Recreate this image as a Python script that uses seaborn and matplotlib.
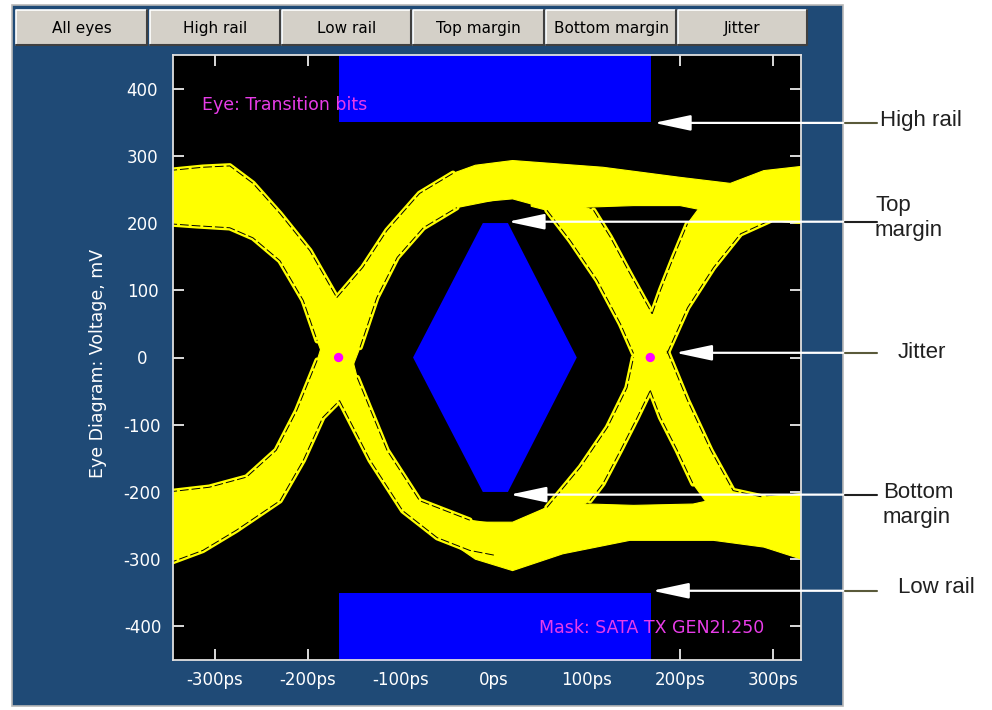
"""
Eye diagram screen (SATA TX mask) recreated with seaborn / matplotlib.
"""

import matplotlib
matplotlib.use("Agg")
import numpy as np
import matplotlib.pyplot as plt
import matplotlib.transforms as mtransforms
from matplotlib.patches import Rectangle
from matplotlib.lines import Line2D
import seaborn as sns

# 1. Data (time in ps, voltage in mV)
x_ticks = [-300, -200, -100, 0, 100, 200, 300]
y_ticks = [-400, -300, -200, -100, 0, 100, 200, 300, 400]
x_tick_labels = [f"{t}ps" for t in x_ticks]

# falling edge through the left crossing (upper edge / lower edge)
fall_l_top_t = [-350, -313, -284, -259, -230, -198, -169, -147, -115, -80, -26, 0]
fall_l_top_v = [278, 283, 285, 259, 214, 159, 89, -30, -138, -213, -242, -247]
fall_l_bot_t = [-350, -320, -284, -259, -230, -205, -190, -166, -133, -98, -61, -26, 0]
fall_l_bot_v = [199, 196, 193, 178, 144, 85, 25, -64, -153, -228, -268, -287, -294]

# rising edge through the left crossing
rise_l_top_t = [-350, -306, -266, -234, -212, -190, -169, -141, -115, -80, -44, 0]
rise_l_top_v = [-200, -193, -178, -138, -79, -4, 89, 134, 189, 244, 274, 288]
rise_l_bot_t = [-350, -313, -277, -230, -205, -184, -166, -144, -126, -104, -76, -40, 0]
rise_l_bot_v = [-306, -287, -257, -213, -153, -89, -64, 15, 89, 149, 193, 223, 234]

# falling edge through the right crossing
fall_r_top_t = [40, 107, 125, 146, 170, 186, 208, 233, 257, 290, 335]
fall_r_top_v = [250, 219, 179, 125, 65, 10, -64, -138, -198, -208, -202]
fall_r_bot_t = [40, 57, 82, 111, 136, 150, 168, 179, 197, 214, 236, 290, 335]
fall_r_bot_v = [225, 219, 174, 115, 50, 6, -49, -89, -138, -188, -230, -250, -250]

# rising edge through the right crossing
rise_r_top_t = [40, 57, 93, 122, 143, 150, 170, 179, 193, 208, 230, 335]
rise_r_top_v = [-235, -223, -163, -104, -45, 0, 65, 100, 149, 199, 240, 250]
rise_r_bot_t = [40, 71, 103, 117, 136, 154, 168, 186, 208, 236, 265, 297, 335]
rise_r_bot_v = [-290, -240, -213, -188, -138, -89, -49, 6, 74, 134, 184, 204, 199]

# settled "1" and "0" levels in the middle / right of the screen
high_top_t = [-44, -20, 20, 117, 200, 254, 290, 335]
high_top_v = [274, 286, 293, 283, 268, 259, 278, 285]
high_bot_t = [-44, -20, 20, 57, 107, 150, 200, 240, 265, 297, 335]
high_bot_v = [222, 231, 236, 222, 224, 226, 226, 215, 205, 204, 199]
low_top_t = [-40, -20, 20, 57, 103, 150, 214, 257, 290, 335]
low_top_v = [-241, -245, -245, -223, -218, -220, -218, -205, -208, -202]
low_bot_t = [-40, -20, 20, 74, 146, 236, 290, 335]
low_bot_v = [-281, -300, -317, -292, -272, -272, -282, -302]

# mask (SATA TX GEN2I.250)
mask_t = [-87, -12, 15, 89, 15, -12]
mask_v = [0, 200, 200, 0, -200, -200]
rail_t = [-167, 169]
high_rail_v = 350
low_rail_v = -350

# crossing points (jitter markers)
cross_t = [-167, 168]
cross_v = [0, 0]

# buttons on top of the panel
button_labels = ["All eyes", "High rail", "Low rail", "Top margin", "Bottom margin", "Jitter"]

# callouts on the right
callout_labels = ["High rail", "Top\nmargin", "Jitter", "Bottom\nmargin", "Low rail"]
callout_t = [172, 15, 195, 17, 170]
callout_v = [349, 202, 7, -204, -347]
callout_text_v = [352, 207, 7, -220, -342]
callout_text_x = [880, 875, 898, 883, 898]
callout_line_col = ["#5a5a3a", "#202020", "#5a5a3a", "#202020", "#5a5a3a"]

# 2. Style
sns.set_theme(style="dark")
plt.rcParams["font.family"] = ["DejaVu Sans"]
plt.rcParams["axes.unicode_minus"] = False

W, H = 992, 710
fig = plt.figure(figsize=(W / 100, H / 100), dpi=100)
fig.patch.set_facecolor("white")


def fx(px):
    return px / W


def fy(py):
    return 1 - py / H


PANEL = "#1f4a76"
YELLOW = "#ffff00"
MASK_BLUE = "#0000ff"
MAGENTA = "#e83ce8"

# blue instrument panel
fig.add_artist(Rectangle((fx(12), fy(706)), fx(843) - fx(12), fy(5) - fy(706),
                         transform=fig.transFigure, facecolor=PANEL,
                         edgecolor="#b8b8b8", lw=1.2, zorder=0))

# buttons
btn_x0 = [16, 150, 282, 413, 546, 678]
btn_x1 = [147, 280, 411, 544, 676, 807]
for lab, a, b in zip(button_labels, btn_x0, btn_x1):
    fig.add_artist(Rectangle((fx(a), fy(45)), fx(b) - fx(a), fy(10) - fy(45),
                             transform=fig.transFigure, facecolor="#d4d0c8",
                             edgecolor="none", zorder=1))
    fig.add_artist(Line2D([fx(a), fx(a), fx(b)], [fy(45), fy(10), fy(10)],
                          transform=fig.transFigure, color="white", lw=1.2, zorder=2))
    fig.add_artist(Line2D([fx(a), fx(b), fx(b)], [fy(45), fy(45), fy(10)],
                          transform=fig.transFigure, color="#404040", lw=1.5, zorder=2))
    fig.text(fx((a + b) / 2), fy(33), lab, ha="center", va="baseline",
             fontsize=11, color="black", zorder=3)

# 3. Plot area
ax = fig.add_axes([fx(173), fy(660), fx(801) - fx(173), fy(55) - fy(660)])
ax.set_facecolor("black")

# each band: (upper edge, lower edge, index ranges of the edges that face black)
bands = [
    (fall_l_top_t, fall_l_top_v, fall_l_bot_t, fall_l_bot_v, [(0, 7), (7, 11)], [(0, 7), (7, 13)]),
    (rise_l_top_t, rise_l_top_v, rise_l_bot_t, rise_l_bot_v, [(0, 6), (6, 11)], [(0, 7), (7, 12)]),
    (fall_r_top_t, fall_r_top_v, fall_r_bot_t, fall_r_bot_v, [(1, 5), (5, 10)], [(1, 6), (6, 10)]),
    (rise_r_top_t, rise_r_top_v, rise_r_bot_t, rise_r_bot_v, [(1, 6), (6, 10)], [(2, 7), (7, 12)]),
    (high_top_t, high_top_v, high_bot_t, high_bot_v, [], []),
    (low_top_t, low_top_v, low_bot_t, low_bot_v, [], []),
]
for tt, tv, bt, bv, top_seg, bot_seg in bands:
    poly_t = np.concatenate([tt, bt[::-1]])
    poly_v = np.concatenate([tv, bv[::-1]])
    ax.fill(poly_t, poly_v, color=YELLOW, lw=0.8, zorder=2)
    # outermost traces: thin yellow trace just outside the band edge,
    # split from the bulk by a broken black gap
    for et, ev, segs in ((tt, tv, top_seg), (bt, bv, bot_seg)):
        for i0, i1 in segs:
            ax.plot(et[i0:i1], ev[i0:i1], color=YELLOW, lw=4.0,
                    solid_capstyle="round", solid_joinstyle="round", zorder=2)
            ax.plot(et[i0:i1], ev[i0:i1], color="black", lw=0.7,
                    ls=(0, (9, 3)), zorder=2.1)

# mask
ax.fill(mask_t, mask_v, color=MASK_BLUE, lw=0, zorder=3)
ax.fill_between(rail_t, high_rail_v, 470, color=MASK_BLUE, lw=0, zorder=3)
ax.fill_between(rail_t, -470, low_rail_v, color=MASK_BLUE, lw=0, zorder=3)

# crossing markers
sns.scatterplot(x=cross_t, y=cross_v, color="#ff00ff", s=45, edgecolor="none",
                ax=ax, zorder=4)

ax.set_xlim(-345, 330)
ax.set_ylim(-450, 450)
ax.set_xticks(x_ticks)
ax.set_xticklabels(x_tick_labels)
ax.set_yticks(y_ticks)
ax.tick_params(axis="both", direction="in", colors="white", length=8, width=1.2,
               top=True, right=True, labelsize=12, bottom=True, left=True)
ax.tick_params(axis="y", pad=22)
ax.tick_params(axis="x", pad=8)
for lab in ax.get_yticklabels():
    lab.set_ha("center")
ax.grid(False)
for sp in ax.spines.values():
    sp.set_color("#e0e0e0")
    sp.set_linewidth(1.3)
    sp.set_zorder(5)
    sp.set_visible(True)
ax.set_xlabel("")
ax.set_ylabel("")

fig.text(fx(98), fy(363), "Eye Diagram: Voltage, mV", rotation=90, ha="center",
         va="center", fontsize=12.5, color="white")

ax.text(-314, 375, "Eye: Transition bits", color=MAGENTA, fontsize=12.5,
        ha="left", va="center", zorder=6)
ax.text(290, -403, "Mask: SATA TX GEN2I.250", color=MAGENTA, fontsize=12.5,
        ha="right", va="center", zorder=6)

# 4. Callouts
blend = mtransforms.blended_transform_factory(fig.transFigure, ax.transData)
for lab, t, v, tv, tx, lc in zip(callout_labels, callout_t, callout_v,
                                 callout_text_v, callout_text_x, callout_line_col):
    ax.annotate("", xy=(t, v), xytext=(fx(843), v),
                textcoords=("figure fraction", "data"),
                arrowprops=dict(arrowstyle="-|>,head_length=1.5,head_width=0.32",
                                color="white", lw=1.6, shrinkA=0, shrinkB=0,
                                mutation_scale=15),
                annotation_clip=False, zorder=7)
    ax.plot([fx(845), fx(877)], [v, v], transform=blend, color=lc, lw=1.5,
            clip_on=False, zorder=7)
    ax.text(fx(tx), tv, lab, transform=blend, ha="left", va="center",
            fontsize=16, family="Liberation Sans", color="#202020",
            linespacing=1.25, clip_on=False)

fig.savefig("out.png", dpi=100)
